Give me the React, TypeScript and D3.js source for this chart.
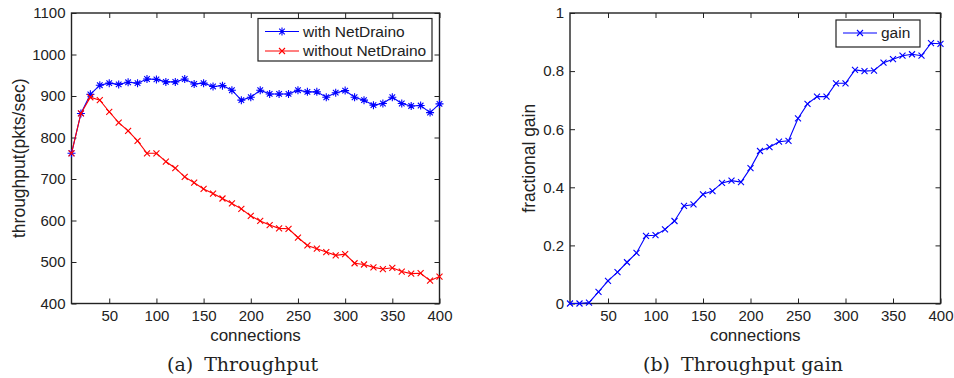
import { useRef, useEffect } from 'react';
import * as d3 from 'd3';

const connections = [10, 20, 30, 40, 50, 60, 70, 80, 90, 100, 110, 120, 130, 140, 150, 160, 170, 180, 190, 200,
  210, 220, 230, 240, 250, 260, 270, 280, 290, 300, 310, 320, 330, 340, 350, 360, 370, 380, 390, 400];

const withNetDraino = [762, 858, 904, 926, 931, 928, 933, 931, 941, 940, 934, 934, 941, 929, 931, 923, 925, 914, 890, 897,
  914, 905, 905, 905, 914, 910, 910, 897, 908, 913, 897, 890, 878, 882, 897, 882, 876, 877, 860, 881];

const withoutNetDraino = [762, 858, 897, 890, 862, 836, 816, 792, 762, 762, 742, 726, 705, 691, 676, 665, 653, 641, 628, 611,
  599, 589, 581, 580, 559, 540, 532, 524, 516, 519, 497, 494, 487, 483, 486, 477, 472, 473, 455, 465];

const gain = [0, 0, 0.003, 0.04, 0.078, 0.108, 0.142, 0.174, 0.233, 0.235, 0.255, 0.284, 0.336, 0.341, 0.376, 0.387,
  0.415, 0.423, 0.418, 0.466, 0.525, 0.538, 0.557, 0.56, 0.637, 0.687, 0.712, 0.712, 0.758, 0.758, 0.804, 0.8, 0.802,
  0.829, 0.841, 0.853, 0.858, 0.853, 0.896, 0.894];

const xTicks = [50, 100, 150, 200, 250, 300, 350, 400];
const throughputTicks = [400, 500, 600, 700, 800, 900, 1000, 1100];
const gainTicks = [0, 0.2, 0.4, 0.6, 0.8, 1];

type Series = { name: string; values: number[]; color: string; marker: 'star' | 'x' };

const SANS = '"Liberation Sans", Arial, Helvetica, sans-serif';
const SERIF = '"DejaVu Serif", "Liberation Serif", serif';

export default function App() {
  const svgRef = useRef<SVGSVGElement>(null);

  useEffect(() => {
    if (!svgRef.current) return;
    const svg = d3.select(svgRef.current);
    svg.selectAll('*').remove();
    svg.append('rect').attr('width', 954).attr('height', 378).attr('fill', '#fff');

    const drawPanel = (opts: {
      left: number; right: number; top: number; bottom: number;
      yDomain: [number, number]; yTicks: number[]; yFormat: (d: number) => string;
      series: Series[]; yLabel: string; yLabelX: number;
      tag: string; caption: string; captionX: number;
      legend: { x: number; y: number; w: number; h: number };
    }) => {
      const x = d3.scaleLinear().domain([10, 400]).range([opts.left, opts.right]);
      const y = d3.scaleLinear().domain(opts.yDomain).range([opts.bottom, opts.top]);
      const g = svg.append('g');

      const styleAxis = (sel: d3.Selection<SVGGElement, unknown, null, undefined>) => {
        sel.select('.domain').remove();
        sel.selectAll('line').attr('stroke', '#222').attr('stroke-width', 1);
        sel.selectAll('text').attr('fill', '#222').style('font-size', '15px').style('font-family', SANS);
      };

      g.append('g').attr('transform', `translate(0,${opts.bottom})`)
        .call(d3.axisBottom(x).tickValues(xTicks).tickSize(-5).tickPadding(7))
        .call(styleAxis);
      g.append('g').attr('transform', `translate(0,${opts.top})`)
        .call(d3.axisTop(x).tickValues(xTicks).tickSize(-5).tickFormat(() => ''))
        .call(styleAxis);
      g.append('g').attr('transform', `translate(${opts.left},0)`)
        .call(d3.axisLeft(y).tickValues(opts.yTicks).tickSize(-5).tickPadding(6).tickFormat((d) => opts.yFormat(+d)))
        .call(styleAxis);
      g.append('g').attr('transform', `translate(${opts.right},0)`)
        .call(d3.axisRight(y).tickValues(opts.yTicks).tickSize(-5).tickFormat(() => ''))
        .call(styleAxis);

      g.append('rect')
        .attr('x', opts.left).attr('y', opts.top)
        .attr('width', opts.right - opts.left).attr('height', opts.bottom - opts.top)
        .attr('fill', 'none').attr('stroke', '#222').attr('stroke-width', 1.4);

      const line = d3.line<number>().x((_, i) => x(connections[i])).y((d) => y(d));

      const drawMarker = (sel: d3.Selection<SVGGElement, unknown, null, undefined>, kind: string, color: string, cx: number, cy: number) => {
        const r = kind === 'star' ? 4 : 3;
        const path = kind === 'star'
          ? `M${cx - r},${cy}L${cx + r},${cy}M${cx},${cy - r}L${cx},${cy + r}M${cx - r * 0.7},${cy - r * 0.7}L${cx + r * 0.7},${cy + r * 0.7}M${cx - r * 0.7},${cy + r * 0.7}L${cx + r * 0.7},${cy - r * 0.7}`
          : `M${cx - r},${cy - r}L${cx + r},${cy + r}M${cx - r},${cy + r}L${cx + r},${cy - r}`;
        sel.append('path').attr('d', path).attr('stroke', color).attr('stroke-width', 1.1).attr('fill', 'none');
      };

      opts.series.forEach((s) => {
        g.append('path').datum(s.values).attr('d', line)
          .attr('fill', 'none').attr('stroke', s.color).attr('stroke-width', 1.1);
        const mg = g.append('g');
        s.values.forEach((v, i) => drawMarker(mg, s.marker, s.color, x(connections[i]), y(v)));
      });

      // Legend
      const lg = g.append('g');
      const L = opts.legend;
      lg.append('rect').attr('x', L.x).attr('y', L.y).attr('width', L.w).attr('height', L.h)
        .attr('fill', '#fff').attr('stroke', '#222').attr('stroke-width', 1.2);
      opts.series.forEach((s, i) => {
        const ly = L.y + 13 + i * 19.5;
        lg.append('line').attr('x1', L.x + 7).attr('x2', L.x + 41).attr('y1', ly).attr('y2', ly)
          .attr('stroke', s.color).attr('stroke-width', 1.1);
        const mk = lg.append('g');
        drawMarker(mk, s.marker, s.color, L.x + 24, ly);
        lg.append('text').attr('x', L.x + 45).attr('y', ly).attr('dy', '0.35em')
          .attr('fill', '#222').style('font-size', '15.5px').style('font-family', SANS)
          .text(s.name);
      });

      // Labels
      const cx = (opts.left + opts.right) / 2;
      svg.append('text').attr('x', cx).attr('y', 340.5).attr('text-anchor', 'middle')
        .attr('fill', '#222').style('font-size', '17px').style('font-family', SANS)
        .text('connections');
      svg.append('text')
        .attr('transform', `translate(${opts.yLabelX},${(opts.top + opts.bottom) / 2}) rotate(-90)`)
        .attr('text-anchor', 'middle').attr('fill', '#222')
        .style('font-size', '17.5px').style('font-family', SANS)
        .text(opts.yLabel);
      const cap = svg.append('text').attr('x', opts.captionX).attr('y', 371)
        .attr('fill', '#222').style('font-size', '19px').style('font-family', SERIF);
      cap.append('tspan').text(opts.tag);
      cap.append('tspan').attr('dx', 11).text(opts.caption);
    };

    drawPanel({
      left: 71.5, right: 439.5, top: 13, bottom: 303.5,
      yDomain: [400, 1100], yTicks: throughputTicks, yFormat: (d) => String(d),
      series: [
        { name: 'with NetDraino', values: withNetDraino, color: '#0000ff', marker: 'star' },
        { name: 'without NetDraino', values: withoutNetDraino, color: '#ff0000', marker: 'x' },
      ],
      yLabel: 'throughput(pkts/sec)', yLabelX: 25, tag: '(a)', caption: 'Throughput', captionX: 167,
      legend: { x: 258, y: 18.5, w: 174, h: 42.5 },
    });

    drawPanel({
      left: 570, right: 940.5, top: 13, bottom: 303.5,
      yDomain: [0, 1], yTicks: gainTicks, yFormat: (d) => (d === 0 || d === 1 ? String(d) : d.toFixed(1)),
      series: [{ name: 'gain', values: gain, color: '#0000ff', marker: 'x' }],
      yLabel: 'fractional gain', yLabelX: 535, tag: '(b)', caption: 'Throughput gain', captionX: 643,
      legend: { x: 836, y: 20, w: 84, h: 27 },
    });
  }, []);

  return (
    <svg ref={svgRef} width={954} height={378} style={{ position: 'absolute', left: 0, top: 0, display: 'block' }} />
  );
}
